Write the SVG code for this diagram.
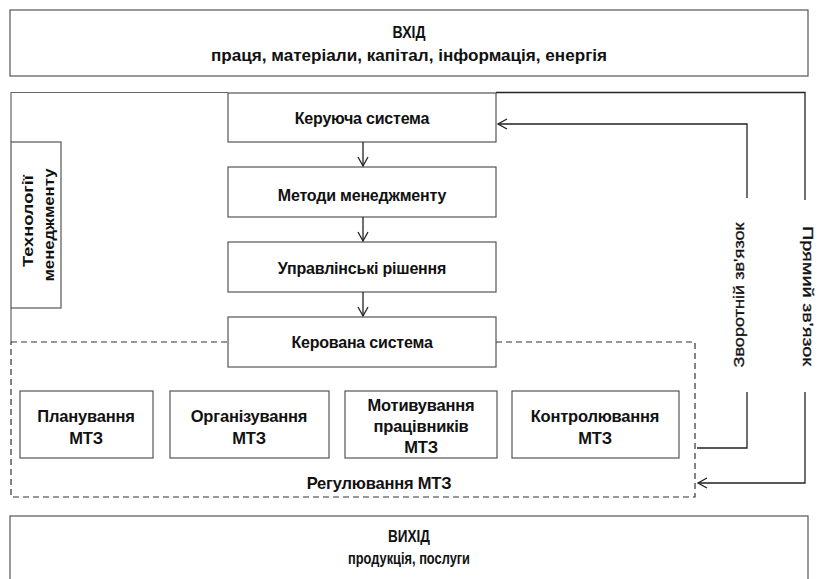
<svg xmlns="http://www.w3.org/2000/svg" width="819" height="579" viewBox="0 0 819 579">
<defs>
<marker id="arr" markerWidth="12" markerHeight="12" refX="10" refY="6" orient="auto" markerUnits="userSpaceOnUse">
<path d="M1,1 L10,6 L1,11" fill="none" stroke="#222" stroke-width="1.3"/>
</marker>
<style>
.box{fill:#fff;stroke:#555;stroke-width:1.2}
.ln{fill:none;stroke:#222;stroke-width:1.3}
.dash{fill:none;stroke:#333;stroke-width:1.2;stroke-dasharray:6 4}
.t{font-family:"Liberation Sans",Arial,sans-serif;font-weight:bold;font-size:16px;fill:#111;text-anchor:middle;letter-spacing:-0.2px}
.s{font-family:"Liberation Sans",Arial,sans-serif;font-weight:bold;font-size:16.5px;fill:#111;text-anchor:middle;letter-spacing:-0.2px}
.tc{font-family:"Liberation Sans",Arial,sans-serif;font-weight:bold;font-size:17px;fill:#111;text-anchor:middle}
.tv{font-family:"Liberation Sans",Arial,sans-serif;font-weight:bold;font-size:15px;fill:#111;text-anchor:middle}
.tr{font-family:"Liberation Sans",Arial,sans-serif;font-size:15px;fill:#111;text-anchor:middle;stroke:#111;stroke-width:0.3}
</style>
</defs>
<rect width="819" height="579" fill="#fff"/>

<g id="input">
<rect class="box" x="10" y="10" width="798" height="66"/>
<text class="tc" x="409" y="38" textLength="33" lengthAdjust="spacingAndGlyphs">ВХІД</text>
<text class="tc" x="409" y="61" textLength="396" lengthAdjust="spacingAndGlyphs">праця, матеріали, капітал, інформація, енергія</text>
</g>

<g id="outer-frame">
<polyline class="ln" points="228,92.5 11,92.5 11,142" style="stroke:#666;stroke-width:1.2"/>
<line class="ln" x1="11" y1="308" x2="11" y2="342" style="stroke:#666;stroke-width:1.2"/>
</g>

<g id="regulation">
<path class="dash" d="M11,342 H228 M496,342 H695 V497 H11 V342"/>
<rect x="250" y="470" width="260" height="25" fill="#fff"/>
<text class="s" x="379" y="489">Регулювання МТЗ</text>
</g>

<g id="tech">
<rect class="box" x="11" y="142" width="50" height="166"/>
<text class="tv" transform="translate(33,221) rotate(-90)" textLength="92" lengthAdjust="spacingAndGlyphs">Технології</text>
<text class="tv" transform="translate(54,225) rotate(-90)" textLength="113" lengthAdjust="spacingAndGlyphs">менеджменту</text>
</g>

<g id="keruyucha">
<rect class="box" x="228" y="93" width="268" height="49"/>
<text class="t" x="362" y="124">Керуюча система</text>
</g>
<g id="metody">
<rect class="box" x="228" y="167" width="268" height="50"/>
<text class="t" x="362" y="201">Методи менеджменту</text>
</g>
<g id="rishennia">
<rect class="box" x="228" y="242" width="268" height="50"/>
<text class="t" x="362" y="274">Управлінські рішення</text>
</g>
<g id="kerovana">
<rect class="box" x="228" y="317" width="268" height="50"/>
<text class="t" x="362" y="348">Керована система</text>
</g>

<g id="planuvannia">
<rect class="box" x="20" y="391" width="133" height="67"/>
<text class="s" x="86" y="422">Планування</text>
<text class="s" x="86" y="444">МТЗ</text>
</g>
<g id="orhanizuvannia">
<rect class="box" x="170" y="391" width="159" height="67"/>
<text class="s" x="249" y="422">Організування</text>
<text class="s" x="249" y="444">МТЗ</text>
</g>
<g id="motyvuvannia">
<rect class="box" x="345" y="391" width="152" height="67"/>
<text class="s" x="421" y="411">Мотивування</text>
<text class="s" x="421" y="432">працівників</text>
<text class="s" x="421" y="453">МТЗ</text>
</g>
<g id="kontroliuvannia">
<rect class="box" x="512" y="391" width="167" height="67"/>
<text class="s" x="595" y="422">Контролювання</text>
<text class="s" x="595" y="444">МТЗ</text>
</g>

<g id="output">
<rect class="box" x="10" y="516" width="798" height="70"/>
<text class="tc" x="409" y="542" textLength="42" lengthAdjust="spacingAndGlyphs">ВИХІД</text>
<text class="tc" x="409" y="564" textLength="122" lengthAdjust="spacingAndGlyphs">продукція, послуги</text>
</g>

<g id="connectors">
<line class="ln" x1="363" y1="142" x2="363" y2="166" marker-end="url(#arr)"/>
<line class="ln" x1="363" y1="217" x2="363" y2="241" marker-end="url(#arr)"/>
<line class="ln" x1="363" y1="292" x2="363" y2="316" marker-end="url(#arr)"/>
<polyline class="ln" points="747,198 747,124 498,124" marker-end="url(#arr)"/>
<polyline class="ln" points="697,448 747,448 747,392"/>
<polyline class="ln" points="496,92.5 805,92.5 805,200"/>
<polyline class="ln" points="805,392 805,483 698,483" marker-end="url(#arr)"/>
<text class="tr" transform="translate(744,295) rotate(-90)" textLength="145" lengthAdjust="spacingAndGlyphs">Зворотній  зв'язок</text>
<text class="tr" transform="translate(803,296) rotate(90)" textLength="140" lengthAdjust="spacingAndGlyphs">Прямий  зв'язок</text>
</g>
</svg>
